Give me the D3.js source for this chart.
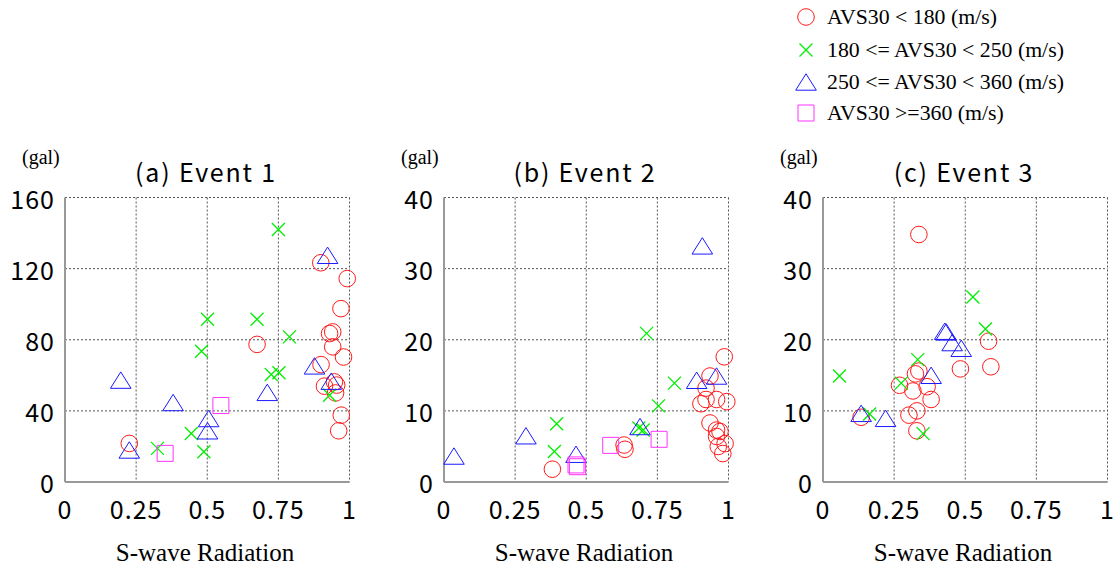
<!DOCTYPE html>
<html>
<head>
<meta charset="utf-8">
<script src="https://cdn.jsdelivr.net/npm/d3@7"></script>
<style>
  body { margin: 0; background: #fff; }
  .tick-label { font-family: "Noto Sans CJK JP", "DejaVu Sans", sans-serif; font-size: 25px; letter-spacing: 1px; fill: #000; }
  .title { font-family: "Noto Sans CJK JP", "DejaVu Sans", sans-serif; font-size: 25px; letter-spacing: 1.8px; fill: #000; }
  .serif { font-family: "Liberation Serif", "DejaVu Serif", serif; fill: #000; }
</style>
</head>
<body>
<svg id="chart" width="1117" height="568"></svg>
<script>
const classLabels = ["AVS30 < 180 (m/s)", "180 <= AVS30 < 250 (m/s)", "250 <= AVS30 < 360 (m/s)", "AVS30 >=360 (m/s)"];
const classColors = ["#ff1a1a", "#00ee00", "#1a1aff", "#ff33ff"];
const classShapes = ["circle", "cross", "triangle", "square"];

const panelTitles = ["(a) Event 1", "(b) Event 2", "(c) Event 3"];
const xTicks = [0, 0.25, 0.5, 0.75, 1];
const xTickLabels = ["0", "0.25", "0.5", "0.75", "1"];
const yTicksA = [0, 40, 80, 120, 160];
const yTicksBC = [0, 10, 20, 30, 40];

// Event 1 : [S-wave radiation, PGA (gal)]
const ev1Lt180 = [[0.899, 123.3], [0.992, 114.4], [0.970, 97.5], [0.930, 83.5], [0.941, 84.4], [0.675, 77.4],
  [0.941, 76.0], [0.979, 70.3], [0.900, 66.0], [0.912, 53.9], [0.947, 56.3], [0.955, 54.5], [0.951, 50.1],
  [0.971, 37.6], [0.962, 28.8], [0.226, 21.7]];
const ev1To250 = [[0.750, 142.0], [0.675, 91.5], [0.501, 91.5], [0.789, 81.6], [0.480, 73.5], [0.725, 60.5],
  [0.752, 61.4], [0.930, 48.8], [0.444, 27.3], [0.325, 18.9], [0.488, 17.0]];
const ev1To360 = [[0.923, 127.5], [0.877, 65.3], [0.196, 57.3], [0.936, 56.7], [0.711, 50.4], [0.380, 44.7],
  [0.505, 35.7], [0.501, 28.8], [0.226, 18.0]];
const ev1Ge360 = [[0.548, 43.0], [0.352, 16.1]];

// Event 2
const ev2Lt180 = [[0.985, 17.6], [0.935, 14.9], [0.921, 13.2], [0.903, 11.0], [0.921, 11.6], [0.958, 11.6],
  [0.994, 11.3], [0.935, 8.3], [0.958, 7.3], [0.970, 7.1], [0.958, 6.4], [0.964, 5.0], [0.988, 5.4],
  [0.980, 4.0], [0.633, 5.2], [0.636, 4.6], [0.381, 1.8]];
const ev2To250 = [[0.712, 20.9], [0.810, 13.9], [0.754, 10.7], [0.685, 7.6], [0.700, 7.3], [0.396, 8.2], [0.388, 4.3]];
const ev2To360 = [[0.908, 33.2], [0.888, 14.3], [0.958, 14.9], [0.689, 7.8], [0.288, 6.5], [0.035, 3.65], [0.464, 3.9]];
const ev2Ge360 = [[0.756, 6.0], [0.586, 5.15], [0.469, 2.15], [0.464, 2.4]];

// Event 3
const ev3Lt180 = [[0.337, 34.8], [0.582, 19.8], [0.483, 15.9], [0.590, 16.2], [0.337, 15.6], [0.325, 15.2],
  [0.269, 13.6], [0.366, 13.4], [0.316, 12.8], [0.380, 11.6], [0.330, 10.0], [0.302, 9.4], [0.134, 9.1], [0.330, 7.2]];
const ev3To250 = [[0.527, 26.0], [0.571, 21.5], [0.333, 17.2], [0.058, 14.9], [0.275, 13.9], [0.164, 9.55], [0.352, 6.8]];
const ev3To360 = [[0.428, 21.2], [0.433, 21.1], [0.454, 19.6], [0.486, 18.8], [0.380, 15.0], [0.134, 9.65], [0.220, 8.95]];
const ev3Ge360 = [];

const panels = [
  { title: panelTitles[0], yMax: 160, yTicks: yTicksA, series: [ev1Lt180, ev1To250, ev1To360, ev1Ge360] },
  { title: panelTitles[1], yMax: 40, yTicks: yTicksBC, series: [ev2Lt180, ev2To250, ev2To360, ev2Ge360] },
  { title: panelTitles[2], yMax: 40, yTicks: yTicksBC, series: [ev3Lt180, ev3To250, ev3To360, ev3Ge360] }
];

const svg = d3.select("#chart");
const panelLeft = [65, 444, 823];
const plotW = 284.5, plotTop = 197.5, plotBottom = 482;

// marker paths, centred on 0,0
function markerPath(shape) {
  switch (shape) {
    case "circle": return "M8.3,0A8.3,8.3 0 1,1 -8.3,0A8.3,8.3 0 1,1 8.3,0Z";
    case "cross": return "M-6.5,-6.5L6.5,6.5M-6.5,6.5L6.5,-6.5";
    case "triangle": return "M0,-8.2L10.3,8.2L-10.3,8.2Z";
    case "square": return "M-8,-8H8V8H-8Z";
  }
}

panels.forEach((p, i) => {
  const x0 = panelLeft[i];
  const x = d3.scaleLinear().domain([0, 1]).range([x0, x0 + plotW]);
  const y = d3.scaleLinear().domain([0, p.yMax]).range([plotBottom, plotTop]);
  const g = svg.append("g");

  // grid
  g.selectAll(".vgrid").data(xTicks.slice(1)).enter().append("line")
    .attr("x1", d => x(d)).attr("x2", d => x(d))
    .attr("y1", plotTop).attr("y2", plotBottom)
    .attr("stroke", "#555").attr("stroke-width", 1).attr("stroke-dasharray", "2,2");
  g.selectAll(".hgrid").data(p.yTicks.slice(1)).enter().append("line")
    .attr("x1", x0).attr("x2", x0 + plotW)
    .attr("y1", d => y(d)).attr("y2", d => y(d))
    .attr("stroke", "#555").attr("stroke-width", 1).attr("stroke-dasharray", "2,2");

  // axes lines
  g.append("line").attr("x1", x0).attr("x2", x0).attr("y1", plotTop).attr("y2", plotBottom)
    .attr("stroke", "#999").attr("stroke-width", 2);
  g.append("line").attr("x1", x0).attr("x2", x0 + plotW).attr("y1", plotBottom).attr("y2", plotBottom)
    .attr("stroke", "#999").attr("stroke-width", 2);

  // tick labels
  g.selectAll(".ylab").data(p.yTicks).enter().append("text")
    .attr("class", "tick-label")
    .attr("x", x0 - 10).attr("y", d => y(d))
    .attr("text-anchor", "end").attr("dominant-baseline", "central")
    .text(d => d);
  g.selectAll(".xlab").data(xTicks).enter().append("text")
    .attr("class", "tick-label")
    .attr("x", d => x(d)).attr("y", 508)
    .attr("text-anchor", "middle").attr("dominant-baseline", "central")
    .text((d, k) => xTickLabels[k]);

  // titles
  g.append("text").attr("class", "title")
    .attr("x", x0 + 141).attr("y", 171)
    .attr("text-anchor", "middle").attr("dominant-baseline", "central")
    .text(p.title);
  g.append("text").attr("class", "serif").style("font-size", "20px")
    .attr("x", x0 - 43).attr("y", 164)
    .text("(gal)");
  g.append("text").attr("class", "serif").style("font-size", "25px")
    .attr("x", x0 + 140).attr("y", 561)
    .attr("text-anchor", "middle")
    .text("S-wave Radiation");

  // points
  p.series.forEach((pts, s) => {
    g.selectAll(".pt" + s).data(pts).enter().append("path")
      .attr("d", markerPath(classShapes[s]))
      .attr("transform", d => `translate(${x(d[0])},${y(d[1])})`)
      .attr("fill", "none")
      .attr("stroke", classColors[s])
      .attr("stroke-width", s === 1 ? 1.3 : 1);
  });
});

// legend
const legendY = [17, 50, 82, 113];
const legend = svg.append("g");
classLabels.forEach((label, s) => {
  legend.append("path")
    .attr("d", markerPath(classShapes[s]))
    .attr("transform", `translate(806,${legendY[s]})`)
    .attr("fill", "none").attr("stroke", classColors[s]).attr("stroke-width", s === 1 ? 1.3 : 1);
  legend.append("text").attr("class", "serif").style("font-size", "21.8px")
    .attr("x", 827).attr("y", legendY[s] + 7)
    .text(label);
});
</script>
</body>
</html>
